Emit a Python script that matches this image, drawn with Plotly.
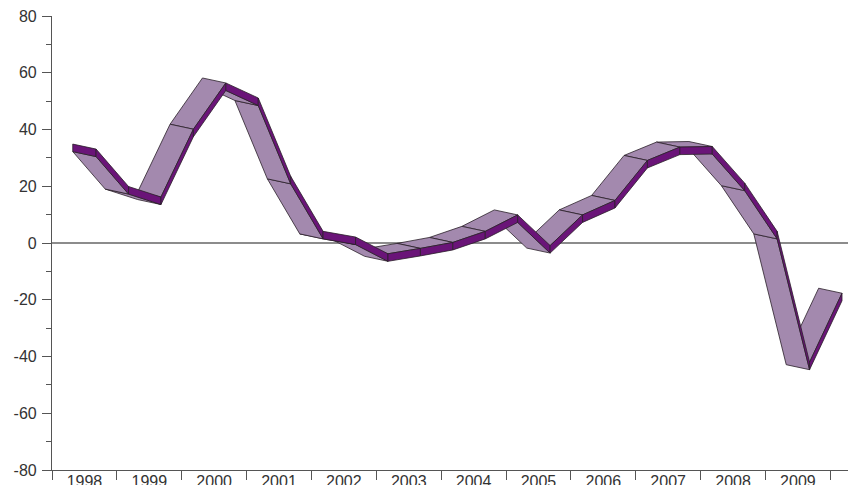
import plotly.graph_objects as go

years = [1998, 1999, 2000, 2001, 2002, 2003, 2004, 2005, 2006, 2007, 2008, 2009]
values = [33.1, 19.9, 16.2, 40.1, 56.4, 51.1, 23.5, 4.1, 2.1, -3.8, -1.9, 0.2,
          4.1, 9.9, -0.9, 9.9, 15.0, 29.1, 33.8, 34.0, 21.1, 4.1, -42.0, -17.7]
y_ticks = [-80, -60, -40, -20, 0, 20, 40, 60, 80]

LIGHT = "#a389ae"
DARK = "#6a1478"
EDGE = "#2a2028"
DX = 0.36      # half of ribbon depth along the category axis
DY = 1.76      # rise of the back edge over the front edge
THICK = 2.65   # height of the dark front face
X_END = 23.545

n = len(values)
pos = list(range(n))


def front_top(i):
    return pos[i] + DX, values[i]


def front_bot(i):
    return pos[i] + DX, values[i] - THICK


def back_top(i):
    return pos[i] - DX, values[i] + DY


def back_bot(i):
    return pos[i] - DX, values[i] - THICK + DY


fig = go.Figure()


def add_quad(points, colour):
    fig.add_trace(go.Scatter(
        x=[p[0] for p in points] + [points[0][0]],
        y=[p[1] for p in points] + [points[0][1]],
        mode="lines", fill="toself", fillcolor=colour,
        line=dict(color=EDGE, width=0.8), hoverinfo="skip", showlegend=False,
    ))


# light faces are painted from the right end to the left end
for i in range(n - 2, -1, -1):
    if values[i + 1] >= values[i]:
        add_quad([back_top(i), back_top(i + 1), front_top(i + 1), front_top(i)], LIGHT)
    else:
        add_quad([back_bot(i), back_bot(i + 1), front_bot(i + 1), front_bot(i)], LIGHT)

# dark front faces, with the cap at the start
add_quad([back_top(0), front_top(0), front_bot(0), back_bot(0)], DARK)
for i in range(n - 1):
    add_quad([front_top(i), front_top(i + 1), front_bot(i + 1), front_bot(i)], DARK)

fig.update_layout(
    width=848, height=485, autosize=False,
    margin=dict(l=52, r=0, t=16, b=15),
    paper_bgcolor="white", plot_bgcolor="white",
    font=dict(family="Liberation Sans, Arial, sans-serif", size=16, color="#333333"),
    showlegend=False,
    xaxis=dict(
        range=[-1, X_END], showgrid=False, zeroline=False, automargin=False,
        showline=True, linecolor="#555555", linewidth=1.2,
        tickmode="array", tickvals=pos[::2], ticktext=[str(y) for y in years],
        ticks="", ticklen=0, ticklabelstandoff=-3,
        minor=dict(ticks="outside", tick0=-1, dtick=2, ticklen=9,
                   tickcolor="#555555", tickwidth=1, showgrid=False),
        fixedrange=True,
    ),
    yaxis=dict(
        range=[-80, 80], showgrid=False, automargin=False,
        zeroline=True, zerolinecolor="#8c8c8c", zerolinewidth=1.5,
        showline=True, linecolor="#555555", linewidth=1.2,
        tickmode="array", tickvals=y_ticks, ticktext=[str(v) for v in y_ticks],
        ticks="outside", ticklen=9, tickcolor="#555555", tickwidth=1,
        ticklabelstandoff=2,
        minor=dict(ticks="outside", dtick=10, tick0=0, ticklen=5,
                   tickcolor="#555555", tickwidth=1, showgrid=False),
        fixedrange=True,
    ),
)

post = """
document.documentElement.style.margin = '0';
document.body.style.margin = '0';
document.body.style.overflow = 'hidden';
var gd = document.getElementsByClassName('plotly-graph-div')[0];
gd.style.width = '848px';
gd.style.height = '485px';
Plotly.relayout(gd, {width: 848, height: 485});
"""
fig.write_html("out.html", config={"displayModeBar": False}, post_script=post)
